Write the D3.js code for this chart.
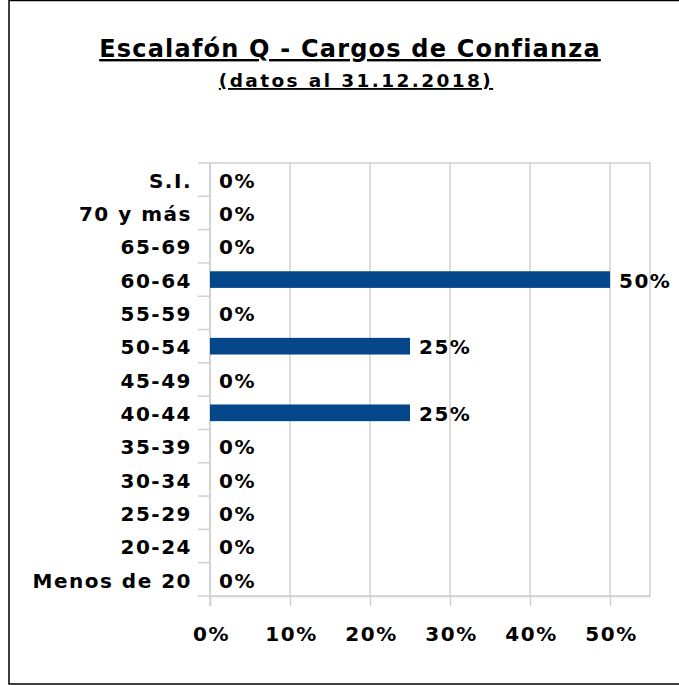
<!DOCTYPE html>
<html><head><meta charset="utf-8">
<script src="https://cdn.jsdelivr.net/npm/d3@7"></script>
<style>body{margin:0;background:#fff}svg{display:block}text{font-family:"DejaVu Sans",Verdana,sans-serif;font-weight:bold;fill:#000}</style>
</head><body>
<script>
const categories = ["S.I.","70 y más","65-69","60-64","55-59","50-54","45-49","40-44","35-39","30-34","25-29","20-24","Menos de 20"];
const values = [0,0,0,0.5,0,0.25,0,0.25,0,0,0,0,0];
const xTicks = [0,0.1,0.2,0.3,0.4,0.5];
const title = "Escalafón Q - Cargos de Confianza";
const subtitle = "(datos al 31.12.2018)";

const W=679,H=685;
const svg=d3.select("body").append("svg").attr("width",W).attr("height",H);
svg.append("rect").attr("x",9).attr("y",0.5).attr("width",700).attr("height",683.5).attr("fill","#fff").attr("stroke","#000").attr("stroke-width",1.5);

const L=210,R=650,T=163,B=596;
const x=d3.scaleLinear().domain([0,0.55]).range([L,R]);
const y=d3.scaleBand().domain(categories).range([T,B]);
const fmt=d3.format(".0%");
const FS="20px", LS="1.5px";

// title
svg.append("text").attr("x",350).attr("y",57).attr("text-anchor","middle").style("font-size","24px").style("letter-spacing","1.2px").style("text-decoration","underline").text(title);
svg.append("text").attr("x",356).attr("y",87).attr("text-anchor","middle").style("font-size","18.5px").style("letter-spacing","2.4px").style("text-decoration","underline").text(subtitle);

// grid
svg.append("g").selectAll("line").data(xTicks.slice(1)).join("line")
  .attr("x1",d=>x(d)).attr("x2",d=>x(d)).attr("y1",T).attr("y2",B).attr("stroke","#d0d0d0").attr("stroke-width",1.5);
svg.append("rect").attr("x",L).attr("y",T).attr("width",R-L).attr("height",B-T).attr("fill","none").attr("stroke","#d0d0d0").attr("stroke-width",1.5);

// x axis
const xa=svg.append("g").attr("transform",`translate(0,${B})`).call(d3.axisBottom(x).tickValues(xTicks).tickFormat(fmt).tickSize(10).tickSizeOuter(0));
xa.select(".domain").attr("stroke","#d0d0d0").attr("stroke-width",1.5);
xa.selectAll(".tick line").attr("stroke","#d0d0d0").attr("stroke-width",1.5);
xa.selectAll(".tick text").attr("y",31).attr("dx","1px").style("font-size",FS).style("letter-spacing",LS).attr("fill","#000");

// y axis: ticks at band boundaries
const bounds=categories.map(c=>y(c)).concat([B]);
svg.append("g").selectAll("line").data(bounds).join("line")
  .attr("x1",L-12).attr("x2",L).attr("y1",d=>d).attr("y2",d=>d).attr("stroke","#d0d0d0").attr("stroke-width",1.5);
svg.append("line").attr("x1",L).attr("x2",L).attr("y1",T).attr("y2",B+10).attr("stroke","#d0d0d0").attr("stroke-width",1.5);
svg.append("g").selectAll("text").data(categories).join("text")
  .attr("x",L-18).attr("y",d=>y(d)+y.bandwidth()/2+1).attr("dy","0.36em").attr("text-anchor","end")
  .style("font-size",FS).style("letter-spacing",LS).text(d=>d);

// bars
const bh=y.bandwidth()*0.5;
svg.append("g").selectAll("rect").data(categories.map((c,i)=>({c,v:values[i]}))).join("rect")
  .attr("x",x(0)).attr("y",d=>y(d.c)+(y.bandwidth()-bh)/2).attr("width",d=>x(d.v)-x(0)).attr("height",bh).attr("fill","#03468A");
svg.append("g").selectAll("text").data(categories.map((c,i)=>({c,v:values[i]}))).join("text")
  .attr("x",d=>x(d.v)+9).attr("y",d=>y(d.c)+y.bandwidth()/2+1).attr("dy","0.36em")
  .style("font-size",FS).style("letter-spacing",LS).text(d=>fmt(d.v));
</script>
</body></html>
